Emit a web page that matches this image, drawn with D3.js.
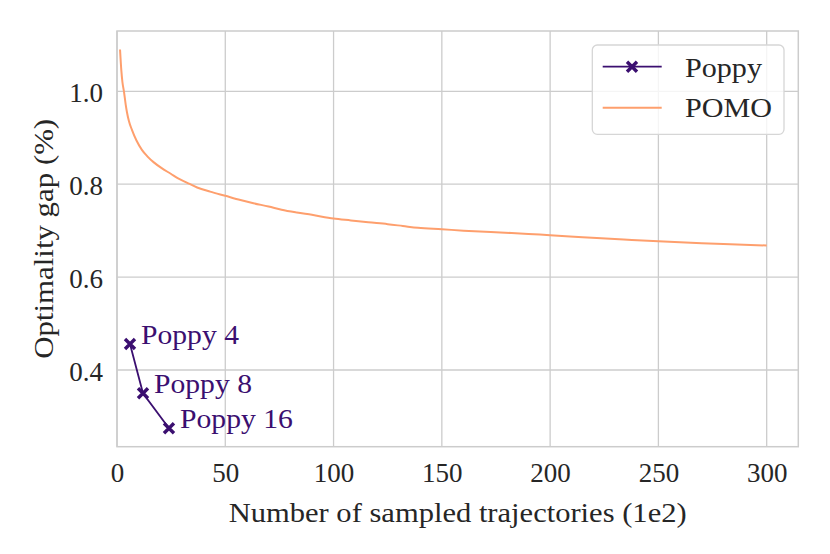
<!DOCTYPE html>
<html>
<head>
<meta charset="utf-8">
<script src="https://cdn.jsdelivr.net/npm/d3@7"></script>
<style>
  html, body { margin: 0; padding: 0; background: #fff; }
  svg text { font-family: "Liberation Serif", "Times New Roman", serif; fill: #262626; }
</style>
</head>
<body>
<svg id="chart" width="830" height="554"></svg>
<script>
// ---- data ----
const pomoX = [1.4, 2, 2.5, 3.2, 4, 4.6, 5.5, 6.9, 9, 11.5, 14, 17, 20.8, 25, 28, 32, 37, 43, 50, 57, 63, 70, 76, 83, 90, 100, 108, 116, 125, 132, 139, 150, 160, 177, 190, 200, 215, 234, 250, 265, 280, 300];
const pomoY = [1.090, 1.045, 1.020, 1.000, 0.972, 0.955, 0.936, 0.917, 0.894, 0.874, 0.860, 0.847, 0.834, 0.822, 0.813, 0.804, 0.793, 0.784, 0.775, 0.766, 0.759, 0.752, 0.745, 0.739, 0.734, 0.726, 0.722, 0.718, 0.714, 0.710, 0.706, 0.703, 0.700, 0.696, 0.693, 0.690, 0.686, 0.681, 0.677, 0.674, 0.671, 0.668];
const poppyX = [6, 12, 24];
const poppyY = [0.456, 0.350, 0.2745];
const poppyLabels = ["Poppy 4", "Poppy 8", "Poppy 16"];
const xTicks = [0, 50, 100, 150, 200, 250, 300];
const yTicks = [0.4, 0.6, 0.8, 1.0];
const seriesNames = ["Poppy", "POMO"];
const xLabel = "Number of sampled trajectories (1e2)";
const yLabel = "Optimality gap (%)";

// ---- layout ----
const pLeft = 117, pRight = 798.3, pTop = 31, pBottom = 446.7;
const poppyColor = "#3b0f70", pomoColor = "#fe9f6d", gridColor = "#cccccc";
const fs = 27;

const svg = d3.select("#chart");
const x = d3.scaleLinear().domain([0, 314.6]).range([pLeft, pRight]);
const y = d3.scaleLinear().domain([0.2349, 1.1298]).range([pBottom, pTop]);

// grid
svg.append("g").selectAll("line").data(xTicks).join("line")
  .attr("x1", d => x(d)).attr("x2", d => x(d)).attr("y1", pTop).attr("y2", pBottom)
  .attr("stroke", gridColor).attr("stroke-width", 1.3);
svg.append("g").selectAll("line").data(yTicks).join("line")
  .attr("x1", pLeft).attr("x2", pRight).attr("y1", d => y(d)).attr("y2", d => y(d))
  .attr("stroke", gridColor).attr("stroke-width", 1.3);

// spines
svg.append("rect").attr("x", pLeft).attr("y", pTop).attr("width", pRight - pLeft).attr("height", pBottom - pTop)
  .attr("fill", "none").attr("stroke", gridColor).attr("stroke-width", 1.5);

// axes (d3 axes with no tick lines)
const xAxis = d3.axisBottom(x).tickValues(xTicks).tickSize(0).tickPadding(0).tickFormat(d3.format("d"));
const gx = svg.append("g").attr("transform", `translate(0,${pBottom})`).call(xAxis);
gx.select(".domain").remove();
gx.selectAll("text").attr("font-size", fs).attr("dy", null).attr("y", 35)
  .style("font-family", '"Liberation Serif", serif').attr("fill", "#262626");

const yAxis = d3.axisLeft(y).tickValues(yTicks).tickSize(0).tickPadding(0).tickFormat(d3.format(".1f"));
const gy = svg.append("g").attr("transform", `translate(${pLeft},0)`).call(yAxis);
gy.select(".domain").remove();
gy.selectAll("text").attr("font-size", fs).attr("dy", "10.4").attr("x", -14)
  .style("font-family", '"Liberation Serif", serif').attr("fill", "#262626");

// axis labels
svg.append("text").attr("x", (pLeft + pRight) / 2).attr("y", 521.5).attr("text-anchor", "middle")
  .attr("font-size", fs).attr("textLength", 458).attr("lengthAdjust", "spacingAndGlyphs").text(xLabel);
svg.append("text").attr("transform", `translate(52.5,${(pTop + pBottom) / 2}) rotate(-90)`)
  .attr("text-anchor", "middle").attr("font-size", fs).attr("textLength", 240)
  .attr("lengthAdjust", "spacingAndGlyphs").text(yLabel);

// POMO line
const pomo = pomoX.map((d, i) => [d, pomoY[i]]);
svg.append("path").datum(pomo)
  .attr("d", d3.line().curve(d3.curveMonotoneX).x(d => x(d[0])).y(d => y(d[1])))
  .attr("fill", "none").attr("stroke", pomoColor).attr("stroke-width", 2).attr("stroke-linejoin", "round");

// Poppy line
const poppy = poppyX.map((d, i) => [d, poppyY[i], poppyLabels[i]]);
svg.append("path").datum(poppy)
  .attr("d", d3.line().x(d => x(d[0])).y(d => y(d[1])))
  .attr("fill", "none").attr("stroke", poppyColor).attr("stroke-width", 1.8);

const h = 5;
const crossPath = `M${-h},${-h}L${h},${h}M${-h},${h}L${h},${-h}`;
svg.append("g").selectAll("path").data(poppy).join("path")
  .attr("transform", d => `translate(${x(d[0])},${y(d[1])})`)
  .attr("d", crossPath).attr("fill", "none").attr("stroke", poppyColor).attr("stroke-width", 3.4);

svg.append("g").selectAll("text").data(poppy).join("text")
  .attr("x", d => x(d[0]) + 11).attr("y", d => y(d[1]))
  .attr("font-size", fs).style("fill", poppyColor)
  .attr("textLength", d => d[2].length === 7 ? 98 : 113).attr("lengthAdjust", "spacingAndGlyphs")
  .text(d => d[2]);

// legend
const lg = svg.append("g");
lg.append("rect").attr("x", 592.3).attr("y", 45).attr("width", 191.7).attr("height", 89.3)
  .attr("rx", 5).attr("ry", 5).attr("fill", "#fff").attr("fill-opacity", 0.8)
  .attr("stroke", "#d6d6d6").attr("stroke-width", 1.3);
lg.append("line").attr("x1", 602.7).attr("x2", 661.7).attr("y1", 66.7).attr("y2", 66.7)
  .attr("stroke", poppyColor).attr("stroke-width", 1.8);
lg.append("path").attr("transform", "translate(632,66.7)").attr("d", crossPath)
  .attr("fill", "none").attr("stroke", poppyColor).attr("stroke-width", 3.4);
lg.append("line").attr("x1", 602.7).attr("x2", 661.7).attr("y1", 107.7).attr("y2", 107.7)
  .attr("stroke", pomoColor).attr("stroke-width", 2);
lg.append("text").attr("x", 685).attr("y", 76.7).attr("font-size", fs)
  .attr("textLength", 77).attr("lengthAdjust", "spacingAndGlyphs").text(seriesNames[0]);
lg.append("text").attr("x", 685).attr("y", 116.5).attr("font-size", fs)
  .attr("textLength", 87).attr("lengthAdjust", "spacingAndGlyphs").text(seriesNames[1]);
</script>
</body>
</html>
